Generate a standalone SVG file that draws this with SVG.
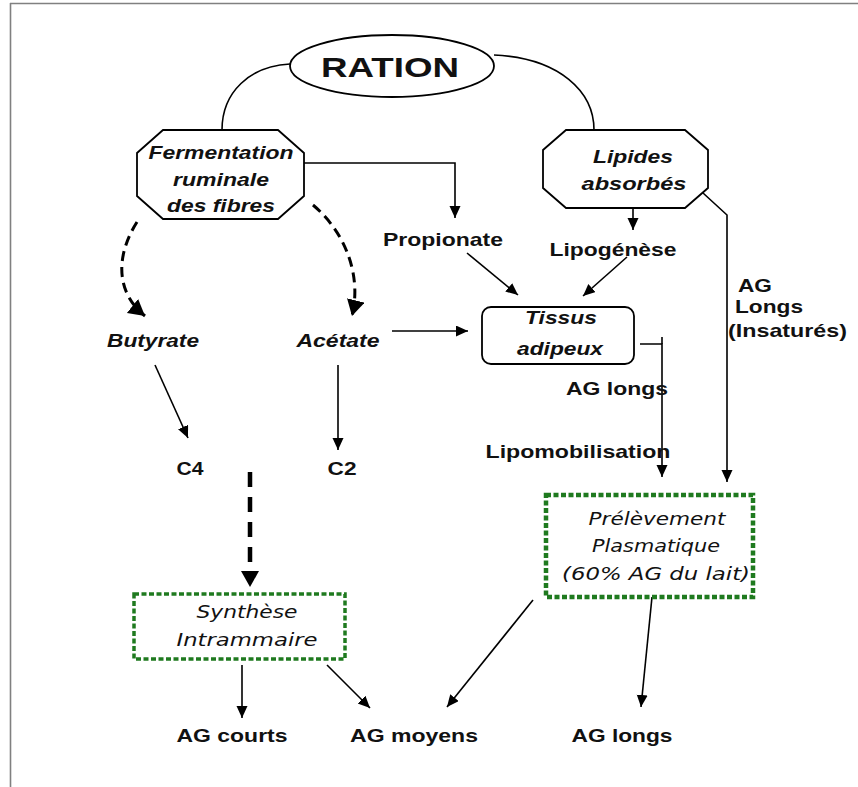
<svg xmlns="http://www.w3.org/2000/svg" width="858" height="787" viewBox="0 0 858 787">
<style>
.ln{fill:none;stroke:#000;stroke-width:1.6}
.dash{fill:none;stroke:#000;stroke-width:3;stroke-dasharray:10 6}
.shape{fill:#fff;stroke:#000;stroke-width:1.8}
.green{fill:#fff;stroke:#1f7a1f;stroke-dasharray:5 2.5}
.t{font-family:"Liberation Sans",Arial,sans-serif;font-weight:bold;font-size:19px;fill:#111;text-anchor:middle}
.bi{font-style:italic}
.c{font-family:"DejaVu Sans","Liberation Sans",sans-serif;font-style:italic;font-size:18px;fill:#111;text-anchor:middle}
</style>
<defs>
<marker id="ah" markerUnits="userSpaceOnUse" markerWidth="14" markerHeight="12" refX="12" refY="5.5" orient="auto">
<path d="M0,0 L12,5.5 L0,11 Z" fill="#000"/>
</marker>
<marker id="ahb" markerUnits="userSpaceOnUse" markerWidth="20" markerHeight="20" refX="16" refY="9" orient="auto">
<path d="M0,0 L16,9 L0,18 Z" fill="#000"/>
</marker>
</defs>
<rect width="858" height="787" fill="#fff"/>
<path d="M10,3.5 H858 M10.5,3 V787" stroke="#808080" stroke-width="1.6" fill="none"/>

<g id="connectors">
<path class="ln" d="M290,64 C250,66 222,92 222,130"/>
<path class="ln" d="M494,55 C560,58 594,92 594,130"/>
<path class="ln" d="M304,163 H455 V218" marker-end="url(#ah)"/>
<path class="ln" d="M633,208 V230" marker-end="url(#ah)"/>
<path class="ln" d="M467,253 L518,295" marker-end="url(#ah)"/>
<path class="ln" d="M627,257 L583,296" marker-end="url(#ah)"/>
<path class="ln" d="M392,331 H468" marker-end="url(#ah)"/>
<path class="ln" d="M640,344 H662 V477" marker-end="url(#ah)"/>
<path class="ln" d="M662,344 V337"/>
<path class="ln" d="M703,193 L727,215 V482" marker-end="url(#ah)"/>
<path class="dash" d="M137,222 C116,255 115,292 145,316" marker-end="url(#ahb)"/>
<path class="dash" d="M313,205 C345,232 362,275 352,316" marker-end="url(#ahb)"/>
<path class="ln" d="M155,365 L188,438" marker-end="url(#ah)"/>
<path class="ln" d="M338,365 V450" marker-end="url(#ah)"/>
<path fill="none" stroke="#000" stroke-width="4.5" stroke-dasharray="15 10" d="M250,472 V572"/>
<path d="M241,571 L259,571 L250,587 Z" fill="#000"/>
<path class="ln" d="M242,665 V718" marker-end="url(#ah)"/>
<path class="ln" d="M327,665 L370,708" marker-end="url(#ah)"/>
<path class="ln" d="M533,600 L447,707" marker-end="url(#ah)"/>
<path class="ln" d="M652,597 L641,707" marker-end="url(#ah)"/>
</g>

<g id="ration">
<ellipse class="shape" cx="392" cy="66" rx="102" ry="31"/>
<text class="t" x="390" y="77" font-size="28" style="font-size:28px" textLength="138" lengthAdjust="spacingAndGlyphs">RATION</text>
</g>

<g id="fermentation">
<polygon class="shape" points="163,130 278,130 304,153 304,196 278,219 163,219 137,196 137,153"/>
<text class="t bi" x="221" y="159" textLength="145" lengthAdjust="spacingAndGlyphs">Fermentation</text>
<text class="t bi" x="221" y="186" textLength="96" lengthAdjust="spacingAndGlyphs">ruminale</text>
<text class="t bi" x="221" y="212" textLength="108" lengthAdjust="spacingAndGlyphs">des fibres</text>
</g>

<g id="lipides">
<polygon class="shape" points="566,130 685,130 708,150 708,188 685,208 566,208 543,188 543,150"/>
<text class="t bi" x="633" y="163" textLength="80" lengthAdjust="spacingAndGlyphs">Lipides</text>
<text class="t bi" x="634" y="190" textLength="105" lengthAdjust="spacingAndGlyphs">absorbés</text>
</g>

<g id="propionate">
<text class="t" x="443" y="246" textLength="120" lengthAdjust="spacingAndGlyphs">Propionate</text>
</g>
<g id="lipogenese">
<text class="t" x="613" y="256" textLength="127" lengthAdjust="spacingAndGlyphs">Lipogénèse</text>
</g>
<g id="ag-longs-insatures">
<text class="t" x="738" y="292" style="text-anchor:start" textLength="34" lengthAdjust="spacingAndGlyphs">AG</text>
<text class="t" x="735" y="313" style="text-anchor:start" textLength="68" lengthAdjust="spacingAndGlyphs">Longs</text>
<text class="t" x="728" y="337" style="text-anchor:start" textLength="119" lengthAdjust="spacingAndGlyphs">(Insaturés)</text>
</g>

<g id="tissus">
<rect class="shape" x="482" y="307" width="152" height="57" rx="9"/>
<text class="t bi" x="561" y="324" textLength="72" lengthAdjust="spacingAndGlyphs">Tissus</text>
<text class="t bi" x="560" y="355" textLength="86" lengthAdjust="spacingAndGlyphs">adipeux</text>
</g>

<g id="butyrate">
<text class="t bi" x="153" y="347" textLength="92" lengthAdjust="spacingAndGlyphs">Butyrate</text>
</g>
<g id="acetate">
<text class="t bi" x="338" y="347" textLength="83" lengthAdjust="spacingAndGlyphs">Acétate</text>
</g>
<g id="c4"><text class="t" x="190" y="475" textLength="27" lengthAdjust="spacingAndGlyphs">C4</text></g>
<g id="c2"><text class="t" x="342" y="475" textLength="29" lengthAdjust="spacingAndGlyphs">C2</text></g>

<g id="ag-longs-mid"><text class="t" x="617" y="395" textLength="102" lengthAdjust="spacingAndGlyphs">AG longs</text></g>
<g id="lipomobilisation"><text class="t" x="578" y="458" textLength="185" lengthAdjust="spacingAndGlyphs">Lipomobilisation</text></g>

<g id="prelevement">
<rect class="green" x="546" y="495" width="207" height="102" stroke-width="4.5"/>
<text class="c" x="657" y="525" textLength="137" lengthAdjust="spacingAndGlyphs">Prélèvement</text>
<text class="c" x="656" y="552" textLength="128" lengthAdjust="spacingAndGlyphs">Plasmatique</text>
<text class="c" x="656" y="580" textLength="188" lengthAdjust="spacingAndGlyphs">(60% AG du lait)</text>
</g>

<g id="synthese">
<rect class="green" x="134" y="594" width="211" height="65" stroke-width="3.5"/>
<text class="c" x="247" y="618" textLength="101" lengthAdjust="spacingAndGlyphs">Synthèse</text>
<text class="c" x="247" y="646" textLength="141" lengthAdjust="spacingAndGlyphs">Intrammaire</text>
</g>

<g id="ag-courts"><text class="t" x="232" y="742" textLength="111" lengthAdjust="spacingAndGlyphs">AG courts</text></g>
<g id="ag-moyens"><text class="t" x="414" y="742" textLength="128" lengthAdjust="spacingAndGlyphs">AG moyens</text></g>
<g id="ag-longs"><text class="t" x="622" y="742" textLength="101" lengthAdjust="spacingAndGlyphs">AG longs</text></g>
</svg>
